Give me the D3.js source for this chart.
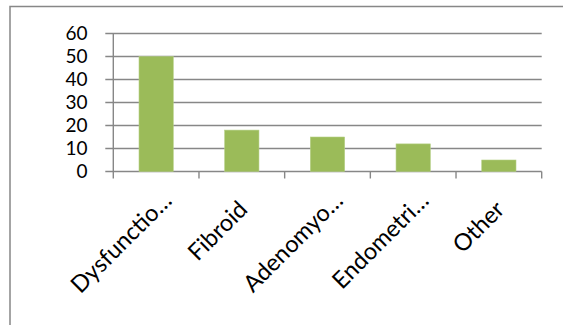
<!DOCTYPE html>
<html><head><meta charset="utf-8">
<script src="https://cdn.jsdelivr.net/npm/d3@7"></script>
<style>html,body{margin:0;padding:0;background:#fff;}svg{display:block;}</style>
</head><body>
<svg id="c" width="563" height="325"></svg>
<script>
const categories = ["Dysfunctio…", "Fibroid", "Adenomyo…", "Endometri…", "Other"];
const values = [50, 18, 15, 12, 5];
const yTicks = [0, 10, 20, 30, 40, 50, 60];

(function () {
const svg = d3.select("#c");
const pL = 113.3, pR = 541.7, pT = 33.5, pB = 171.5;
const grey = "#878787";
const font = "Lato, 'Open Sans', sans-serif";

// outer frame (extends past right/bottom edges)
svg.append("rect").attr("x", 10).attr("y", 6.5).attr("width", 600).attr("height", 400)
  .attr("fill", "none").attr("stroke", grey).attr("stroke-width", 1.5);

const x = d3.scaleBand().domain(categories).range([pL, pR]).paddingInner(0.6).paddingOuter(0.3);
const y = d3.scaleLinear().domain([0, 60]).range([pB, pT]);

// gridlines + y ticks
svg.append("g").selectAll("line").data(yTicks).join("line")
  .attr("x1", pL - 8).attr("x2", pR).attr("y1", d => y(d)).attr("y2", d => y(d))
  .attr("stroke", grey).attr("stroke-width", 1.4);

// y axis line
svg.append("line").attr("x1", pL).attr("x2", pL).attr("y1", pT).attr("y2", pB + 7)
  .attr("stroke", grey).attr("stroke-width", 1.4);

// category boundary ticks
const step = x.step();
const bounds = d3.range(categories.length + 1).map(i => pL + i * step);
svg.append("g").selectAll("line").data(bounds.slice(1)).join("line")
  .attr("x1", d => d).attr("x2", d => d).attr("y1", pB).attr("y2", pB + 7)
  .attr("stroke", grey).attr("stroke-width", 1.4);

// bars
svg.append("g").selectAll("rect").data(values).join("rect")
  .attr("x", (d, i) => x(categories[i])).attr("width", x.bandwidth())
  .attr("y", d => y(d)).attr("height", d => y(0) - y(d))
  .attr("fill", "#9BBB59").attr("stroke", "#b5cf84").attr("stroke-width", 0.6);

// y labels
svg.append("g").selectAll("text").data(yTicks).join("text")
  .attr("x", 87.5).attr("y", d => y(d)).attr("dy", "0.36em")
  .attr("text-anchor", "end").attr("font-family", font).attr("font-size", 19).attr("fill", "#000")
  .text(d => d);

// x labels rotated
svg.append("g").selectAll("text").data(categories).join("text")
  .attr("text-anchor", "end").attr("font-family", font).attr("font-size", 23.5).attr("fill", "#000")
  .attr("transform", d => {
    const cx = x(d) + x.bandwidth() / 2;
    const trunc = d.endsWith("…");
    return `translate(${cx + (trunc ? 17 : 7)},${trunc ? 202 : 211}) rotate(-45)`;
  })
  .text(d => d);
})();
</script>
</body></html>
